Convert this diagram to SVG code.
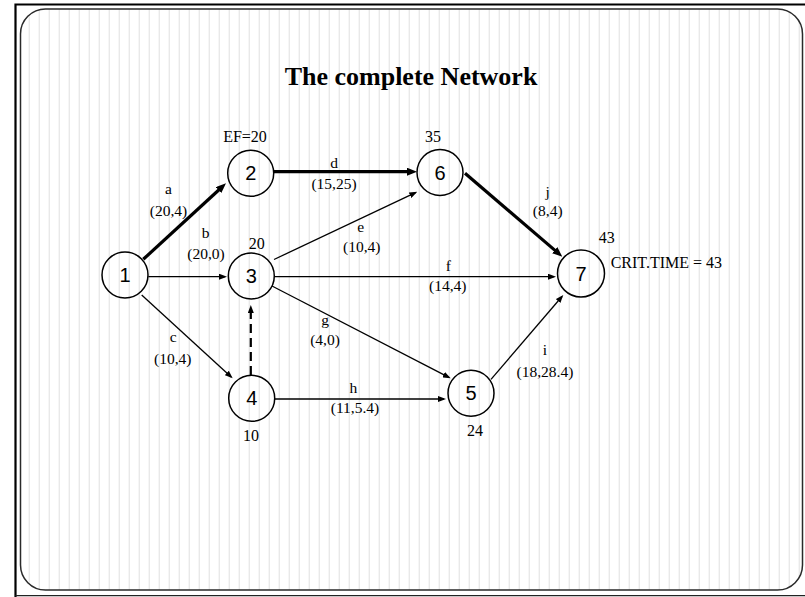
<svg xmlns="http://www.w3.org/2000/svg" width="805" height="597" viewBox="0 0 805 597">
  <defs>
    <pattern id="stripes" patternUnits="userSpaceOnUse" x="0" y="0" width="10" height="10">
      <rect x="8.6" y="0" width="1.4" height="10" fill="#e9e9e9"/>
    </pattern>
    <marker id="ah" viewBox="0 0 8 6" refX="6" refY="3" markerWidth="8" markerHeight="6" markerUnits="userSpaceOnUse" orient="auto">
      <path d="M0,0 L8,3 L0,6 z" fill="#000"/>
    </marker>
    <marker id="ahb" viewBox="0 0 10 8" refX="5" refY="4" markerWidth="10" markerHeight="8" markerUnits="userSpaceOnUse" orient="auto">
      <path d="M0,0 L10,4 L0,8 z" fill="#000"/>
    </marker>
    <style>
      .node circle { fill: none; stroke: #000; stroke-width: 1.5; }
      .num { font-family: "Liberation Sans", Arial, sans-serif; font-size: 20px; text-anchor: middle; fill: #000; }
      .val { font-family: "Liberation Serif", "Times New Roman", serif; font-size: 16px; text-anchor: middle; fill: #000; }
      .lbl { font-family: "Liberation Serif", "Times New Roman", serif; font-size: 15.5px; text-anchor: middle; fill: #000; }
      .thin { stroke: #000; stroke-width: 1.3; fill: none; marker-end: url(#ah); }
      .thick { stroke: #000; stroke-width: 3.2; fill: none; marker-end: url(#ahb); }
      .dash { stroke: #000; stroke-width: 2.2; fill: none; stroke-dasharray: 9 5; marker-end: url(#ah); }
    </style>
  </defs>

  <rect x="0" y="0" width="805" height="597" fill="#fff"/>
  <!-- outer frame -->
  <path d="M15.5,597 L15.5,4.5 L805,4.5" fill="none" stroke="#000" stroke-width="2.2"/>
  <line x1="15.5" y1="595.6" x2="805" y2="595.6" stroke="#222" stroke-width="1.2"/>
  <!-- inner slide panel -->
  <rect x="20.5" y="9" width="782" height="581" rx="25" ry="25" fill="url(#stripes)" stroke="#2a2a2a" stroke-width="1.5"/>

  <text x="411" y="85" font-family="Liberation Serif, 'Times New Roman', serif" font-size="26" font-weight="bold" text-anchor="middle" fill="#000">The complete Network</text>

  <g id="connectors">
    <line class="thick" x1="143.3" y1="259.3" x2="222.3" y2="186.7"/>
    <line class="thin" x1="148.3" y1="276.7" x2="225" y2="276.7"/>
    <line class="thin" x1="141.7" y1="295" x2="231.2" y2="377"/>
    <line class="thick" x1="274" y1="171.7" x2="412" y2="171.7"/>
    <line class="thin" x1="274" y1="259.5" x2="415.5" y2="192.6"/>
    <line class="thin" x1="274.5" y1="276.7" x2="554" y2="276.7"/>
    <line class="thin" x1="272" y1="286" x2="448.9" y2="377.4"/>
    <line class="thin" x1="275" y1="399" x2="444" y2="399"/>
    <line class="thin" x1="491" y1="379.3" x2="562" y2="296.5"/>
    <line class="thick" x1="465" y1="173.3" x2="558.5" y2="253.4"/>
    <line class="dash" x1="250.8" y1="375" x2="250.8" y2="307"/>

    <text class="lbl" x="168.5" y="194">a</text>
    <text class="lbl" x="168.5" y="216">(20,4)</text>
    <text class="lbl" x="205.7" y="238">b</text>
    <text class="lbl" x="206" y="259">(20,0)</text>
    <text class="lbl" x="173.3" y="341.7">c</text>
    <text class="lbl" x="172.7" y="364">(10,4)</text>
    <text class="lbl" x="334" y="168">d</text>
    <text class="lbl" x="334" y="189">(15,25)</text>
    <text class="lbl" x="360.7" y="231.7">e</text>
    <text class="lbl" x="361.7" y="252.3">(10,4)</text>
    <text class="lbl" x="448.3" y="271">f</text>
    <text class="lbl" x="447.7" y="290.7">(14,4)</text>
    <text class="lbl" x="325" y="325">g</text>
    <text class="lbl" x="325" y="345">(4,0)</text>
    <text class="lbl" x="353.3" y="393">h</text>
    <text class="lbl" x="355" y="413.3">(11,5.4)</text>
    <text class="lbl" x="545" y="354.5">i</text>
    <text class="lbl" x="545" y="376.7">(18,28.4)</text>
    <text class="lbl" x="547.7" y="196.5">j</text>
    <text class="lbl" x="547.7" y="216.3">(8,4)</text>
  </g>

  <g id="node-1" class="node">
    <circle cx="125" cy="275" r="23"/>
    <text class="num" x="125" y="282">1</text>
  </g>
  <g id="node-2" class="node">
    <circle cx="250.7" cy="173.3" r="23"/>
    <text class="num" x="250.7" y="180.3">2</text>
    <text class="val" x="245" y="141.5">EF=20</text>
  </g>
  <g id="node-3" class="node">
    <circle cx="251.3" cy="276" r="23"/>
    <text class="num" x="251.3" y="283">3</text>
    <text class="val" x="256.7" y="249.4">20</text>
  </g>
  <g id="node-4" class="node">
    <circle cx="251.7" cy="398.3" r="23"/>
    <text class="num" x="251.7" y="405.3">4</text>
    <text class="val" x="251" y="440.5">10</text>
  </g>
  <g id="node-5" class="node">
    <circle cx="471" cy="393.3" r="23"/>
    <text class="num" x="471" y="400.3">5</text>
    <text class="val" x="475" y="435.5">24</text>
  </g>
  <g id="node-6" class="node">
    <circle cx="440" cy="172.5" r="23"/>
    <text class="num" x="440" y="179.5">6</text>
    <text class="val" x="433" y="142">35</text>
  </g>
  <g id="node-7" class="node">
    <circle cx="581" cy="273.5" r="23.5"/>
    <text class="num" x="581" y="280.5">7</text>
    <text class="val" x="606.7" y="242.8">43</text>
    <text class="val" x="610.7" y="267.6" style="text-anchor:start">CRIT.TIME = 43</text>
  </g>
</svg>
